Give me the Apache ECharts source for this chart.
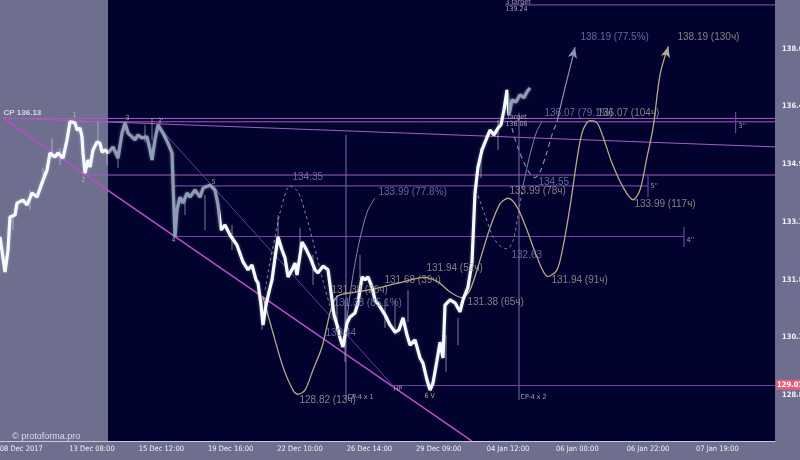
<!DOCTYPE html>
<html><head><meta charset="utf-8">
<script src="https://cdn.jsdelivr.net/npm/echarts@6/dist/echarts.min.js"></script>
<style>html,body{margin:0;padding:0;background:#6e6e8e}#c{width:800px;height:460px}</style>
</head><body><div id="c"></div>
<script>
// ---------- axes ----------
const xTickIdx = [16, 69, 121, 173, 225, 277, 329, 381, 433, 486, 538];
const xTickLabels = ['08 Dec 2017','13 Dec 08:00','15 Dec 12:00','19 Dec 16:00','22 Dec 10:00','26 Dec 14:00','29 Dec 09:00','04 Jan 12:00','06 Jan 00:00','06 Jan 22:00','07 Jan 19:00'];
const yTickValues = [128.80, 130.34, 131.88, 133.42, 134.96, 136.50, 138.04];
const yTickLabels = ['128.82','130.35','131.87','133.39','134.94','136.46','138.04'];
const historyEnd = 81;

// ---------- price (bar index, price) ----------
const priceData = [
[0,133.02],[3.75,132.08],[6,132.67],[7.5,133.55],[11.25,133.60],[12.75,133.92],[17.25,134.00],[20.25,133.87],
[24,134.19],[27.75,134.08],[31.5,134.46],[35.25,134.80],[37.5,135.26],[41.25,135.15],[43.5,135.26],[47.25,135.12],
[50.25,135.61],[52.5,136.09],[56.25,136.06],[57.75,135.87],[60,135.92],[61.5,135.69],[62.25,135.26],[63.75,134.72],
[66,135.07],[67.5,134.88],[69.75,135.34],[72.75,135.55],[75,135.52],[76.5,135.28],[78.75,135.34],[81,135.26],
[84.75,135.42],[88.5,135.12],[91.5,135.79],[93.75,136.06],[96,135.79],[99,135.69],[101.25,135.61],[103.5,135.74],
[106.5,135.66],[110.25,135.69],[112.5,135.34],[114,135.07],[116.25,135.61],[118.5,136.01],[122.25,135.79],[126,135.52],
[129,135.26],[129.75,134.46],[131.25,133.02],[132.75,133.74],[135,134.08],[137.25,133.92],[140.25,134.19],[142.5,134.08],
[146.25,134.27],[150,134.08],[152.25,134.32],[157.5,134.40],[161.25,134.27],[163.5,133.87],[165.75,133.20],[168.75,133.34],
[172.5,133.07],[177.75,132.80],[182.25,132.35],[186,132.14],[189,132.27],[192,131.87],[193.5,131.79],[195.75,131.20],
[197.25,130.67],[199.5,131.20],[201.75,131.55],[204,131.87],[206.25,132.46],[208.5,133.02],[211.5,132.67],[213.75,132.46],
[216,131.95],[219,132.14],[221.25,132.32],[222.75,132.00],[226.5,132.88],[228.75,132.75],[232.5,132.48],[236.25,132.14],
[238.5,132.06],[242.25,132.24],[246,132.14],[249,131.34],[250.5,130.94],[252.75,130.67],[255,130.32],[257.25,130.08],
[260.25,130.72],[262.5,130.88],[266.25,130.99],[268.5,131.26],[271.5,131.95],[273.75,131.87],[276,131.95],[279,131.68],
[281.25,131.34],[285,131.15],[288.75,130.94],[292.5,130.67],[296.25,130.48],[299.25,130.54],[302.25,130.86],[305.25,130.40],
[307.5,130.13],[311.25,130.27],[315,129.79],[317.25,129.65],[320.25,129.20],[322.5,128.93],[324.75,129.12],[327.75,129.73],
[330,130.21],[332.25,129.79],[333.75,131.20],[337.5,131.34],[341.25,131.26],[345,131.02],[347.25,131.34],[351,131.68],
[354,132.35],[356.25,134.19],[358.5,134.88],[361.5,135.34],[364.5,135.61],[367.5,135.87],[370.5,135.74],[373.5,135.92],
[375.75,136.01],[378,136.41],[380.25,136.94],[381.75,136.27],[384,136.67],[387,136.62],[390,136.81],[393,136.73],
[395.25,136.89],[397.5,136.99]
];
// wicks: [index, low, high]
const wickData = [
[9.75,133.20,133.60],[22.5,133.74,134.27],[32.25,134.40,134.86],[39,135.12,135.66],[45,134.94,135.39],
[73.5,135.47,136.09],[80.25,134.94,135.34],[88.5,134.86,135.34],[108.75,135.55,136.01],[114,135.61,136.19],
[138.75,133.60,134.11],[153.75,133.20,134.14],[174,132.67,133.34],[196.5,130.54,131.39],[208.5,132.88,133.60],
[225,132.40,133.26],[234.75,131.74,132.54],[252.75,130.48,131.47],[258.75,129.68,131.34],[270,131.92,132.54],
[288.75,130.59,131.34],[296.25,130.40,131.34],[306,130.75,131.60],[334.5,129.41,130.40],[343.5,130.13,130.86],
[360.75,134.59,135.39],[373.5,135.34,136.14]
];

// ---------- projections ----------
const tanCurve = [
[197.25,131.42],[204.75,130.46],[212.25,129.55],[219.75,128.93],[223.5,128.82],[228.75,128.93],[234.75,129.47],
[241.5,130.08],[247.5,130.99],[251.25,131.36],[255,131.47],[267.75,131.55],[286.5,131.68],[302.25,131.82],[318,131.94],
[328.5,131.82],[337.5,131.55],[346.5,131.40],[352.5,131.60],[360,132.40],[367.5,133.26],[375,133.90],[381,134.05],
[387.75,133.82],[395.25,133.20],[402.75,132.48],[411,131.96],[417.75,132.14],[422.25,132.75],[427.5,133.82],
[433.5,135.26],[437.25,135.87],[442.5,136.12],[447.75,136.06],[452.25,135.69],[459,134.99],[467.25,134.35],
[474.75,134.01],[480,134.27],[485.25,135.15],[489.75,135.92],[495,137.34],[500.25,138.01]
];
const tanArrowTip = [501.3,138.10];
const dashedLeft = [[198.75,131.60],[202.5,132.35],[207,133.15],[211.5,133.87],[217.5,134.38],[223.5,134.22],[229.5,133.60],[235.5,132.80],[241.5,131.95],[247.5,131.18],[253.5,130.59],[258,130.38]];
const solidLeft = [[258,130.38],[260.25,130.86],[263.25,131.66],[267,132.46],[271.5,133.20],[276,133.74],[281.25,134.06]];
const dashedA = [[384,135.92],[388.5,135.39],[393.75,134.94],[398.25,134.67],[401.25,134.60],[405,134.75],[409.5,135.20],[414,135.74],[417.75,136.09]];
const solidA = [[417.75,136.09],[421.5,136.67],[425.25,137.21],[429,137.74]];
const arrowATip = [431.3,138.08];
const dashedB = [[357,134.27],[363.75,133.60],[369.75,133.02],[375,132.78],[380.25,132.70],[384.75,132.91],[388.5,133.60],[392.25,134.38]];
const solidB = [[392.25,134.38],[396,134.99],[399.75,135.52],[402.75,135.85],[406.5,136.09]];

// ---------- trend / level lines ----------
const pinkLines = [
 [[2.25,136.19],[581.25,135.42]],
 [[2.25,136.18],[581.25,136.18]],
 [[52.5,136.09],[581.25,136.09]],
 [[63.75,134.67],[581.25,134.67]]
];
const mainDiagonal = [[2.25,136.19],[354,127.57]];
const thinDiagonal = [[120,135.92],[296.25,128.99]];
const levelLines = [
 [[131.25,134.38],[486,134.38]], [[486,134.67],[486,134.08]],
 [[131.25,133.03],[513,133.03]], [[513,133.28],[513,132.75]],
 [[551.7,136.35],[551.7,135.79]],
 [[378.75,139.21],[581.25,139.21]]
];
const verticalLines = [ [[259.5,135.74],[259.5,128.67]], [[389.25,136.33],[389.25,128.67]] ];
const currentPrice = 129.07, currentFrom = 294.75;

// ---------- texts ----------
const pctLabels = [
 [435,138.35,'138.19 (77.5%)'],[408,136.33,'136.07 (79.1%)'],[403.5,134.48,'134.55'],[383.25,132.54,'132.63'],
 [219,134.62,'134.35'],[283.5,134.22,'133.99 (77.8%)'],[249.75,131.26,'131.38 (85.1%)'],[243.75,130.46,'130.44']
];
const hourLabels = [
 [224.25,128.67,'128.82 (13ч)'],[248.25,131.60,'131.38 (26ч)'],[288,131.87,'131.68 (39ч)'],[319.5,132.19,'131.94 (52ч)'],
 [350.25,131.28,'131.38 (65ч)'],[381.75,134.24,'133.99 (78ч)'],[413.25,131.87,'131.94 (91ч)'],[447.75,136.33,'136.07 (104ч)'],
 [475.5,133.90,'133.99 (117ч)'],[507.75,138.35,'138.19 (130ч)']
];
const markLabels = [
 [54,136.27,'1'],[60.75,134.54,'2'],[93.75,136.19,'3'],[117.75,136.11,"3'"],[128.25,132.94,'4'],[158.25,134.48,'5'],
 [294.75,128.96,'HP'],[318,128.77,'6 V'],[260.25,128.75,'CP-4 x 1'],[390,128.75,'CP-4 x 2'],
 [553.5,135.98,"3''"],[487.5,134.38,"5''"],[514.5,132.94,"4''"],
 [378.75,139.29,'3 target'],[378.75,139.10,'139.24'],[380.25,136.22,'target'],[378.75,136.03,'136.06']
];
const cpLabel = [[2.25,136.33,'CP 136.13']];

// ---------- build ----------
const NARROW = "'Liberation Sans Narrow','DejaVu Sans Condensed',sans-serif";
const SANS = "'Liberation Sans',Arial,sans-serif";
const minorTicks = [];
for (let i = -1; i < yTickValues.length + 1; i++) {
  const step = (yTickValues[6] - yTickValues[0]) / 6;
  const base = yTickValues[0] + i * step;
  for (let k = 0; k < 3; k++) minorTicks.push(+(base + k * step / 3).toFixed(3));
}

function seg(data, color, width, type, z) {
  return {type:'line', data, symbol:'none', silent:true, z: z || 3,
    lineStyle:{color, width, type: type || 'solid'}};
}
function curve(data, color, width, type, smooth) {
  return {type:'line', data, symbol:'none', silent:true, z:4, smooth: smooth === undefined ? 0.3 : smooth,
    lineStyle:{color, width, type: type || 'solid'}};
}
function arrow(from, tip, color, rot) {
  return {type:'line', data:[from, {value:tip, symbol:'arrow', symbolSize:[7,11], symbolRotate:rot}],
    showSymbol:true, symbol:'none', silent:true, z:4,
    lineStyle:{color, width:1.2}, itemStyle:{color}};
}
function texts(items, color, size, family, weight) {
  return {type:'scatter', silent:true, z:8, symbolSize:1, itemStyle:{color:'rgba(0,0,0,0)'},
    data: items.map(t => ({value:[t[0], t[1]], label:{formatter:t[2]}})),
    label:{show:true, position:'right', distance:0, color, fontSize:size, fontFamily:family, fontWeight: weight || 'normal'}};
}

const series = [];
series.push({type:'line', data:priceData, symbol:'none', silent:true, z:6,
  lineStyle:{width:3.2, shadowBlur:3, shadowColor:'rgba(255,255,255,0.35)'}});
series.push({type:'line', data:[], z:1, silent:true,
  markArea:{silent:true, itemStyle:{color:'#6e6e8e'}, data:[[{xAxis:0},{xAxis:historyEnd}]]}});
series.push({type:'custom', silent:true, z:5, data:wickData, encode:{x:0, y:[1,2]},
  renderItem:(p, api) => {
    const a = api.coord([api.value(0), api.value(1)]);
    const b = api.coord([api.value(0), api.value(2)]);
    return {type:'line', shape:{x1:a[0], y1:a[1], x2:b[0], y2:b[1]},
      style:{stroke:'rgba(215,225,240,0.55)', lineWidth:1}};
  }});
pinkLines.forEach(l => series.push(seg(l, '#a85cc0', 1)));
series.push(seg(mainDiagonal, '#bc4cc6', 1.6));
series.push(seg(thinDiagonal, '#6c3c9a', 1));
levelLines.forEach(l => series.push(seg(l, '#7242a2', 1.2)));
verticalLines.forEach(l => series.push(seg(l, '#8a62aa', 1)));
series.push({type:'line', data:[], z:3, silent:true,
  markLine:{silent:true, symbol:['none','none'],
    lineStyle:{color:'#7242a2', width:1.2, type:'solid'},
    label:{show:true, position:'end', formatter:String(currentPrice), backgroundColor:'#e2607e',
      color:'#ffffff', fontSize:7.5, fontWeight:'bold', fontFamily:NARROW, padding:[1,2,1,1], distance:1},
    data:[[{coord:[currentFrom, currentPrice]},{coord:[581.25, currentPrice]}]]}});
series.push(curve(tanCurve, '#b8a888', 1.3));
series.push(arrow(tanCurve[tanCurve.length-1], tanArrowTip, '#b0a89a', -16));
series.push(curve(dashedLeft, '#7c84a8', 1, [3,3]));
series.push(curve(solidLeft, '#8088ac', 1));
series.push(curve(dashedA, '#8088ac', 1.2, [5,4]));
series.push(curve(solidA, '#8c92b8', 1.2));
series.push(arrow(solidA[solidA.length-1], arrowATip, '#8c92b8', -14));
series.push(curve(dashedB, '#7c84a8', 1, [3,3]));
series.push(curve(solidB, '#8088ac', 1));
series.push(texts(pctLabels, '#7a82b6', 10, SANS));
series.push(texts(hourLabels, '#a8a090', 10, SANS));
series.push(texts(markLabels, '#c4c4d8', 7, NARROW));
series.push(texts(cpLabel, '#eeeef6', 8, SANS, 'bold'));

const option = {
  animation:false,
  backgroundColor:'#6e6e8e',
  title:{text:'© protoforma.pro', left:7, top:427,
    textStyle:{fontSize:9, color:'#dcdcea', fontWeight:'normal', fontFamily:SANS}},
  grid:{left:0, right:25, top:0, bottom:19, show:true, backgroundColor:'#02022e', borderWidth:0,
    containLabel:false, outerBoundsMode:'none'},
  xAxis:{type:'value', min:0, max:581.25, splitLine:{show:false},
    axisLine:{show:true, lineStyle:{color:'#c8c8dc', width:1}}, axisTick:{show:false},
    axisLabel:{customValues:xTickIdx, formatter:v => xTickLabels[xTickIdx.indexOf(v)] || '',
      margin:4, fontSize:7.5, color:'#f0f0f6', fontFamily:NARROW, hideOverlap:false}},
  yAxis:{type:'value', position:'right', min:127.573, max:139.34, splitLine:{show:false},
    axisLine:{show:false},
    axisTick:{show:true, customValues:minorTicks, length:4, lineStyle:{color:'#b4b4c8'}},
    axisLabel:{customValues:yTickValues, formatter:v => yTickLabels[yTickValues.indexOf(v)] || '',
      margin:7, fontSize:7.5, fontWeight:'bold', color:'#f0f0f8', fontFamily:NARROW}},
  visualMap:[{type:'piecewise', show:false, seriesIndex:0, dimension:0,
    pieces:[{lt:81, color:'#f2fcff'},{gte:81, lt:165, color:'#8d9db5'},{gte:165, lt:381, color:'#f2fcff'},{gte:381, color:'#8d9db5'}]}],
  series
};
echarts.init(document.getElementById('c')).setOption(option);
</script></body></html>
